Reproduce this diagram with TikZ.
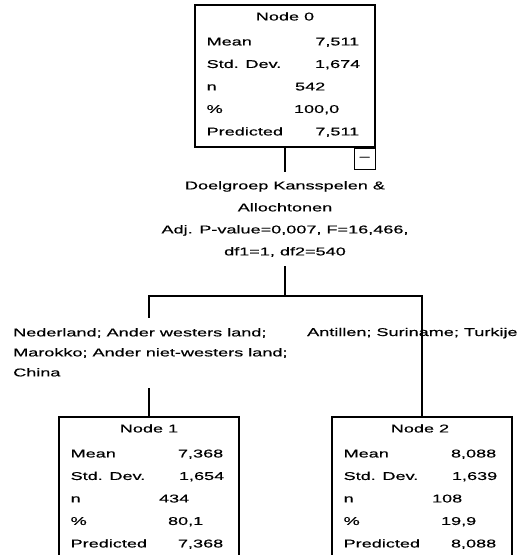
\documentclass[tikz,border=0pt]{standalone}
\usepackage{fontspec}
\setmainfont{Liberation Sans}
\newfontfamily\spssfont[FakeStretch=1.6,FakeBold=0.4]{Liberation Sans}
\usetikzlibrary{positioning,calc}

\begin{document}
\begin{tikzpicture}[x=1pt, y=-1pt, font=\spssfont\fontsize{11.3}{22}\selectfont,
    treenode/.style={draw, line width=1.1pt, minimum width=180pt, minimum height=142pt, inner sep=0pt},
    nodetitle/.style={anchor=base, inner sep=0pt},
    rowlbl/.style={anchor=base west, inner sep=0pt},
    rowval/.style={anchor=base east, inner sep=0pt}]
    \clip (0,0) rectangle (532,555);

    % root node
    \node[treenode] (node0) at (285,76) {};
    \node[nodetitle] (n0title) at ($(node0.north)+(0,16)$) {Node 0};
    \node[rowlbl] (n0meanl) at ($(node0.north west)+(12,41)$) {Mean};
    \node[rowval] (n0meanv) at ($(node0.north west)+(165,41)$) {7,511};
    \node[rowlbl] (n0sdl) at ($(node0.north west)+(12,63.5)$) {Std. Dev.};
    \node[rowval] (n0sdv) at ($(node0.north west)+(166,63.5)$) {1,674};
    \node[rowlbl] (n0nl) at ($(node0.north west)+(12,86)$) {n};
    \node[rowval] (n0nv) at ($(node0.north west)+(131,86)$) {542};
    \node[rowlbl] (n0pctl) at ($(node0.north west)+(12,108.5)$) {\%};
    \node[rowval] (n0pctv) at ($(node0.north west)+(145,108.5)$) {100,0};
    \node[rowlbl] (n0predl) at ($(node0.north west)+(12,131)$) {Predicted};
    \node[rowval] (n0predv) at ($(node0.north west)+(165,131)$) {7,511};
    \node[draw, line width=1pt, minimum size=21pt, inner sep=0pt, anchor=north east] (collapse) at (node0.south east) {\textendash};

    % split
    \node[align=center, inner xsep=0pt, inner ysep=9pt, anchor=north] (split) at (285,172) {Doelgroep Kansspelen \&\\Allochtonen\\Adj. P-value=0,007, F=16,466,\\df1=1, df2=540};
    \coordinate (fork) at (285,296);
    \coordinate (lstop) at (149,318);
    \coordinate (lgo) at (149,388);
    \node[align=left, anchor=north west, inner sep=0pt, font=\spssfont\fontsize{11.3}{20}\selectfont] (leftlbl) at (13,328) {Nederland; Ander westers land;\\Marokko; Ander niet-westers land;\\China};
    \node[anchor=base west, inner sep=0pt] (rightlbl) at (307,336) {Antillen; Suriname; Turkije};

    % child nodes
    \node[treenode] (node1) at (149,488) {};
    \node[nodetitle] (n1title) at ($(node1.north)+(0,16)$) {Node 1};
    \node[rowlbl] (n1meanl) at ($(node1.north west)+(12,41)$) {Mean};
    \node[rowval] (n1meanv) at ($(node1.north west)+(165,41)$) {7,368};
    \node[rowlbl] (n1sdl) at ($(node1.north west)+(12,63.5)$) {Std. Dev.};
    \node[rowval] (n1sdv) at ($(node1.north west)+(166,63.5)$) {1,654};
    \node[rowlbl] (n1nl) at ($(node1.north west)+(12,86)$) {n};
    \node[rowval] (n1nv) at ($(node1.north west)+(131,86)$) {434};
    \node[rowlbl] (n1pctl) at ($(node1.north west)+(12,108.5)$) {\%};
    \node[rowval] (n1pctv) at ($(node1.north west)+(145,108.5)$) {80,1};
    \node[rowlbl] (n1predl) at ($(node1.north west)+(12,131)$) {Predicted};
    \node[rowval] (n1predv) at ($(node1.north west)+(165,131)$) {7,368};

    \node[treenode] (node2) at (422,488) {};
    \node[nodetitle] (n2title) at ($(node2.north)+(-2,16)$) {Node 2};
    \node[rowlbl] (n2meanl) at ($(node2.north west)+(12,41)$) {Mean};
    \node[rowval] (n2meanv) at ($(node2.north west)+(165,41)$) {8,088};
    \node[rowlbl] (n2sdl) at ($(node2.north west)+(12,63.5)$) {Std. Dev.};
    \node[rowval] (n2sdv) at ($(node2.north west)+(166,63.5)$) {1,639};
    \node[rowlbl] (n2nl) at ($(node2.north west)+(12,86)$) {n};
    \node[rowval] (n2nv) at ($(node2.north west)+(131,86)$) {108};
    \node[rowlbl] (n2pctl) at ($(node2.north west)+(12,108.5)$) {\%};
    \node[rowval] (n2pctv) at ($(node2.north west)+(145,108.5)$) {19,9};
    \node[rowlbl] (n2predl) at ($(node2.north west)+(12,131)$) {Predicted};
    \node[rowval] (n2predv) at ($(node2.north west)+(165,131)$) {8,088};

    \draw[line width=1.1pt] (node0.south) -- (split.north);
    \draw[line width=1.1pt] (split.south) -- (fork);
    \draw[line width=1.1pt] (fork) -| (lstop);
    \draw[line width=1.1pt] (lgo) -- (node1.north);
    \draw[line width=1.1pt] (fork) -| (node2.north);
\end{tikzpicture}
\end{document}
